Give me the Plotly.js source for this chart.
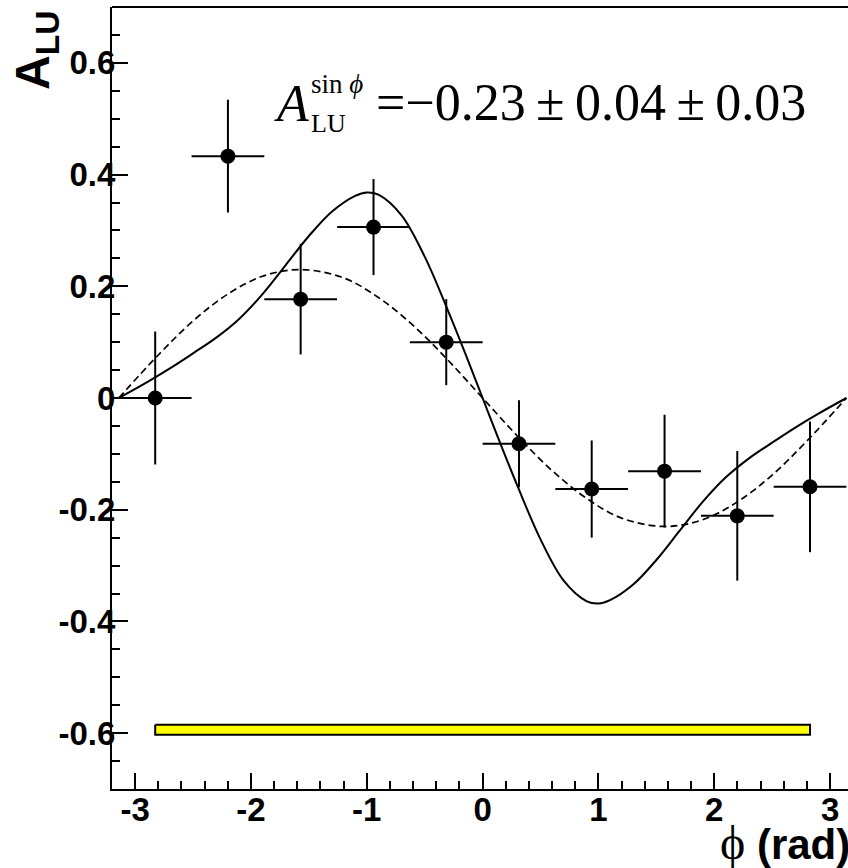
<!DOCTYPE html>
<html>
<head>
<meta charset="utf-8">
<script src="https://cdn.plot.ly/plotly-3.0.1.min.js"></script>
<style>html,body{margin:0;padding:0;background:#fff;}#chart{width:848px;height:868px;}</style>
</head>
<body>
<div id="chart"></div>
<script>
// Data points (phi bins)
const phiCenters = [-2.827, -2.199, -1.571, -0.942, -0.314, 0.314, 0.942, 1.571, 2.199, 2.827];
const phiHalfWidth = [0.314, 0.314, 0.314, 0.314, 0.314, 0.314, 0.314, 0.314, 0.314, 0.314];
const aluValues = [0.000, 0.433, 0.177, 0.306, 0.100, -0.082, -0.163, -0.131, -0.211, -0.159];
const aluErrors = [0.119, 0.101, 0.099, 0.086, 0.077, 0.078, 0.087, 0.101, 0.116, 0.117];

// Systematic band
const systX = [-2.827, -2.199, -1.571, -0.942, -0.314, 0.314, 0.942, 1.571, 2.199, 2.827];
const systLow = [-0.603, -0.603, -0.603, -0.603, -0.603, -0.603, -0.603, -0.603, -0.603, -0.603];
const systHigh = [-0.585, -0.585, -0.585, -0.585, -0.585, -0.585, -0.585, -0.585, -0.585, -0.585];

// Solid model curve
const solidX = [-3.1416, -2.9, -2.7, -2.5, -2.3, -2.1, -1.9, -1.7, -1.5, -1.3, -1.1, -1.0, -0.9, -0.7, -0.5, -0.3, -0.15, 0,
                0.15, 0.3, 0.5, 0.7, 0.9, 1.0, 1.1, 1.3, 1.5, 1.7, 1.9, 2.1, 2.3, 2.5, 2.7, 2.9, 3.1416];
const solidY = [0, 0.028, 0.053, 0.080, 0.108, 0.142, 0.186, 0.238, 0.290, 0.334, 0.362, 0.368, 0.364, 0.327, 0.253, 0.157, 0.080, 0,
                -0.080, -0.157, -0.253, -0.327, -0.364, -0.368, -0.362, -0.334, -0.290, -0.238, -0.186, -0.142, -0.108, -0.080, -0.053, -0.028, 0];

// Dashed model curve
const dashX = [-3.1416, -2.8, -2.5, -2.2, -1.9, -1.571, -1.2, -0.9, -0.6, -0.3, 0, 0.3, 0.6, 0.9, 1.2, 1.571, 1.9, 2.2, 2.5, 2.8, 3.1416];
const dashY = [0, 0.077, 0.138, 0.186, 0.218, 0.23, 0.215, 0.18, 0.13, 0.068, 0, -0.068, -0.13, -0.18, -0.215, -0.23, -0.218, -0.186, -0.138, -0.077, 0];

// Tick labels
const xTickVals = [-3, -2, -1, 0, 1, 2, 3];
const xTickText = ["-3", "-2", "-1", "0", "1", "2", "3"];
const yTickVals = [-0.6, -0.4, -0.2, 0, 0.2, 0.4, 0.6];
const yTickText = ["-0.6", "-0.4", "-0.2", "0", "0.2", "0.4", "0.6"];

// Band polygon from arrays
const bandX = systX.concat(systX.slice().reverse(), [systX[0]]);
const bandY = systHigh.concat(systLow.slice().reverse(), [systHigh[0]]);

const W = 848, H = 868, L = 112, R = 0, T = 7, B = 79;
const px = v => (v - L) / (W - L - R);
const py = v => (H - B - v) / (H - T - B);

const sans = "Liberation Sans, Arial, sans-serif";
const serif = "Liberation Serif, Times New Roman, serif";

const traces = [
  {x: bandX, y: bandY, type: 'scatter', mode: 'lines', fill: 'toself', fillcolor: '#ffff00',
   line: {color: 'black', width: 2}, hoverinfo: 'skip', showlegend: false},
  {x: dashX, y: dashY, type: 'scatter', mode: 'lines', line: {color: 'black', width: 1.7, dash: '7px,4px', shape: 'spline'}, showlegend: false},
  {x: solidX, y: solidY, type: 'scatter', mode: 'lines', line: {color: 'black', width: 2, shape: 'spline'}, showlegend: false},
  {x: phiCenters, y: aluValues, type: 'scatter', mode: 'markers',
   marker: {color: 'black', size: 15, symbol: 'circle'},
   error_x: {type: 'data', array: phiHalfWidth, visible: true, color: 'black', thickness: 2, width: 0},
   error_y: {type: 'data', array: aluErrors, visible: true, color: 'black', thickness: 2, width: 0},
   showlegend: false}
];

const layout = {
  width: W, height: H,
  margin: {l: L, r: R, t: T, b: B, pad: 0},
  paper_bgcolor: 'white', plot_bgcolor: 'white',
  showlegend: false,
  xaxis: {
    range: [-3.2, 3.155], showgrid: false, zeroline: false,
    showline: true, linecolor: 'black', linewidth: 2,
    ticks: 'inside', ticklen: 16, tickwidth: 2, tickcolor: 'black',
    tickvals: xTickVals, ticktext: xTickText,
    tickfont: {family: sans, size: 33, color: 'black', weight: 'bold'},
    ticklabelstandoff: -10,
    minor: {ticks: 'inside', ticklen: 8, tickwidth: 2, tickcolor: 'black', dtick: 0.2, tick0: 0, showgrid: false}
  },
  yaxis: {
    range: [-0.7, 0.7], showgrid: false, zeroline: false,
    showline: true, linecolor: 'black', linewidth: 2,
    ticks: 'inside', ticklen: 16, tickwidth: 2, tickcolor: 'black',
    tickvals: yTickVals, ticktext: yTickText,
    tickfont: {family: sans, size: 33, color: 'black', weight: 'bold'},
    ticklabelstandoff: -12,
    minor: {ticks: 'inside', ticklen: 8, tickwidth: 2, tickcolor: 'black', dtick: 0.05, tick0: 0, showgrid: false}
  },
  shapes: [
    {type: 'line', xref: 'paper', yref: 'paper', x0: 0, x1: 1, y0: 1, y1: 1, line: {color: 'black', width: 2}}
  ],
  annotations: [
    {xref: 'paper', yref: 'paper', x: px(36), y: py(51), xanchor: 'center', yanchor: 'middle',
     text: 'A<sub>LU</sub>', textangle: -90, showarrow: false,
     font: {family: sans, size: 48, color: 'black', weight: 'bold'}},
    {xref: 'paper', yref: 'paper', x: px(852), y: py(842), xanchor: 'right', yanchor: 'middle',
     text: '<span style="font-family:Liberation Serif;font-weight:normal;font-size:48px">ϕ</span> (rad)', showarrow: false,
     font: {family: sans, size: 42, color: 'black', weight: 'bold'}},
    {xref: 'paper', yref: 'paper', x: px(272), y: py(103), xanchor: 'left', yanchor: 'middle',
     text: '<i>A</i>', showarrow: false, font: {family: serif, size: 52, color: 'black'}},
    {xref: 'paper', yref: 'paper', x: px(309), y: py(84), xanchor: 'left', yanchor: 'middle',
     text: 'sin <i>ϕ</i>', showarrow: false, font: {family: serif, size: 27, color: 'black'}},
    {xref: 'paper', yref: 'paper', x: px(309), y: py(124), xanchor: 'left', yanchor: 'middle',
     text: 'LU', showarrow: false, font: {family: serif, size: 26, color: 'black'}},
    {xref: 'paper', yref: 'paper', x: px(374), y: py(102), xanchor: 'left', yanchor: 'middle',
     text: '=−0.23\u2009±\u20090.04\u2009±\u20090.03', showarrow: false, font: {family: serif, size: 52, color: 'black'}}
  ]
};

Plotly.newPlot('chart', traces, layout, {displayModeBar: false, staticPlot: true});
</script>
</body>
</html>
